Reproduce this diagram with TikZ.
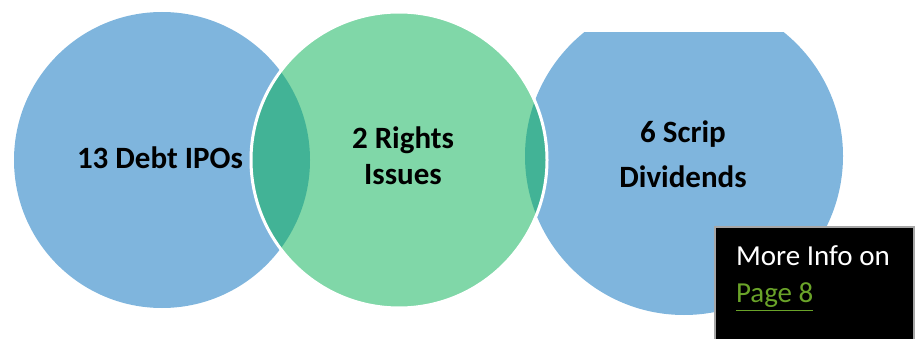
\documentclass[tikz,border=0pt]{standalone}
\usepackage{fontspec}
\setmainfont{Carlito}
\newcommand\pageul[1]{\vtop{\hbox{#1}\kern2pt\hrule height 1.6pt}}
\definecolor{vennblue}{HTML}{7FB5DD}
\definecolor{venngreen}{HTML}{80D7A8}
\definecolor{vennlens}{HTML}{42B396}
\definecolor{linkgreen}{HTML}{6AA329}
\definecolor{boxgray}{HTML}{A6A6A6}

\begin{document}
\begin{tikzpicture}[x=1pt,y=-1pt,
  venntext/.style={font=\fontsize{31}{36}\selectfont\bfseries,align=center,inner sep=0pt,anchor=base},
  infobox/.style={fill=black,draw=boxgray,line width=2pt,text=white,anchor=north west,
    font=\fontsize{29}{37}\selectfont,align=left,text depth=50pt,
    inner xsep=21pt,inner ysep=19pt}]
\useasboundingbox (0,0) rectangle (915,339);

\fill[vennblue] (162,160) circle (148pt);
\begin{scope}
\clip (0,33) rectangle (915,339);
\fill[vennblue] (684,156) circle (159pt);
\end{scope}
\fill[venngreen] (399,160) circle (148pt);
\begin{scope}
\clip (162,160) circle (148pt);
\fill[vennlens] (399,160) circle (148pt);
\end{scope}
\begin{scope}
\clip (684,156) circle (159pt);
\fill[vennlens] (399,160) circle (148pt);
\end{scope}
\draw[white,line width=3pt] (399,160) circle (148pt);

\node[venntext] (debt) at (160,169) {13 Debt IPOs};
\node[venntext] (rights) at (403,185) {2 Rights\\Issues};
\node[venntext] (scrip) at (683,188) {6 Scrip\\[9pt]Dividends};

\node[infobox] (info) at (714,226) {More Info on\hspace*{3pt}\\{\color{linkgreen}\pageul{Page 8}}};
\end{tikzpicture}
\end{document}
